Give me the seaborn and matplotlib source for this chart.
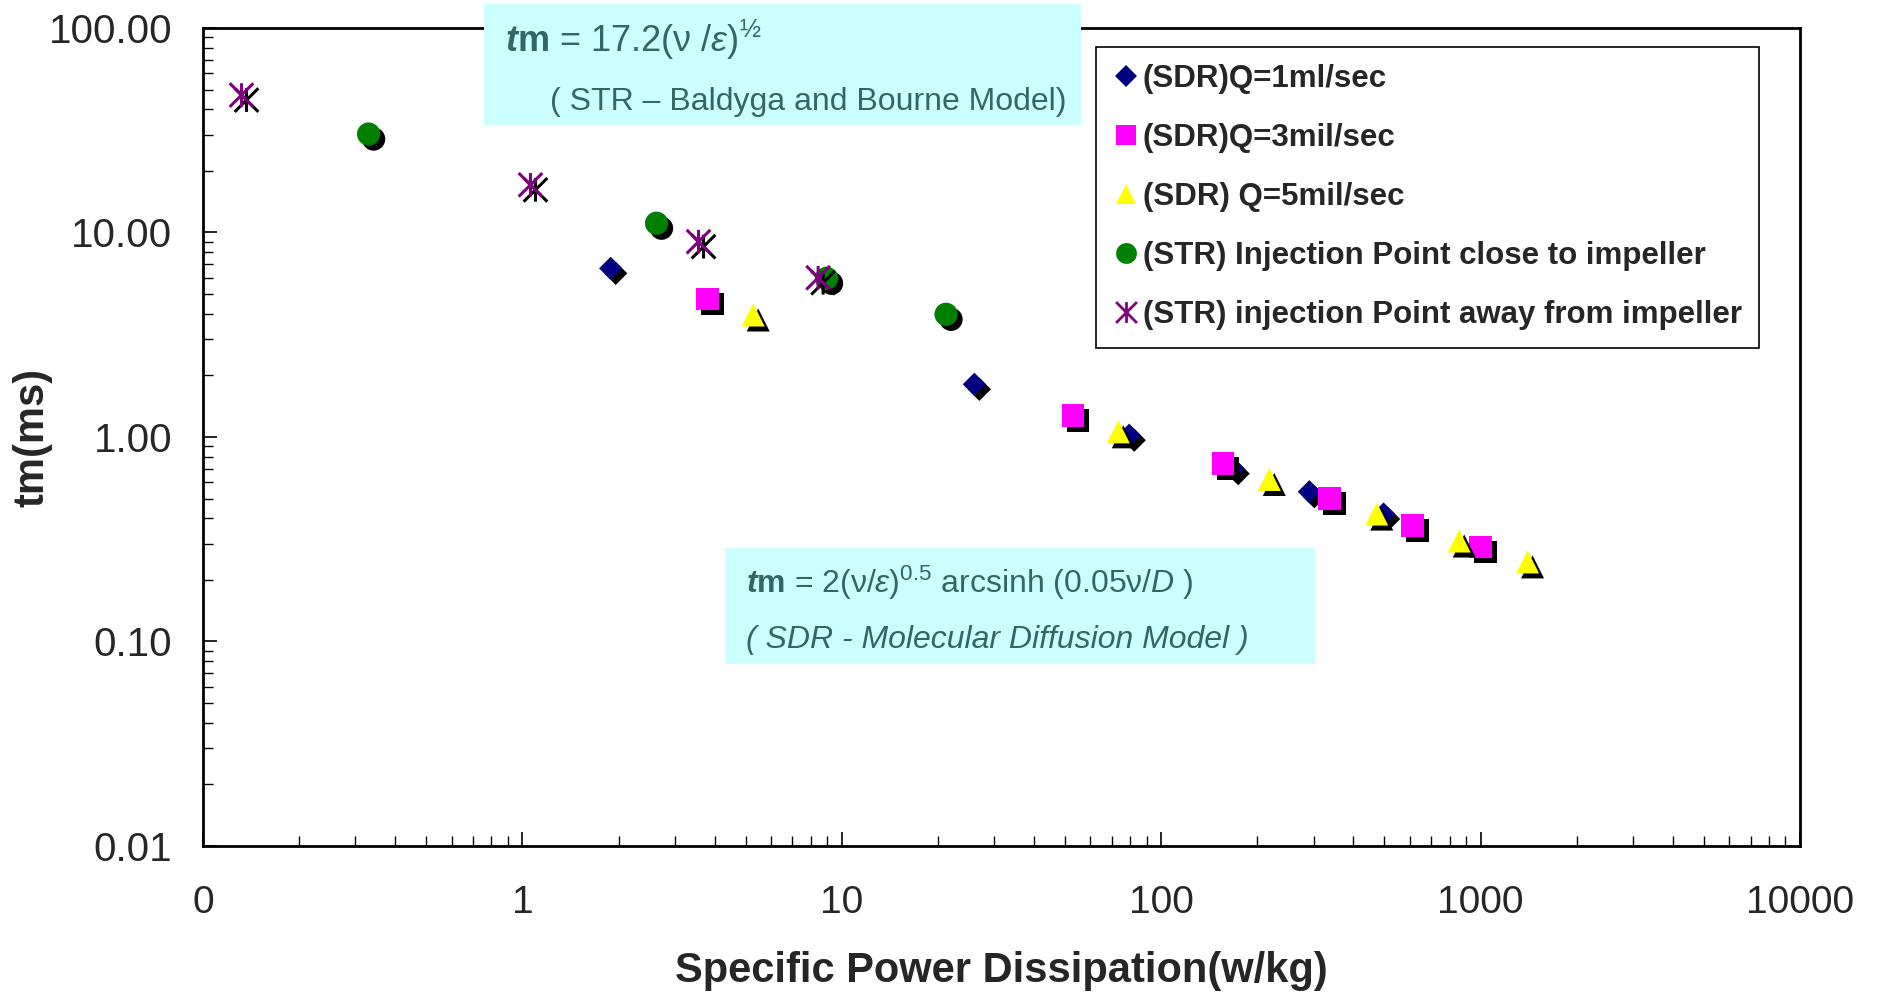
import matplotlib
matplotlib.use("Agg")
import matplotlib.pyplot as plt
import matplotlib.patheffects as pe
from matplotlib.path import Path
from matplotlib.lines import Line2D
from matplotlib.patches import Rectangle
from matplotlib.ticker import NullFormatter, LogLocator
import seaborn as sns

# values
sdr_q1_x = [1.89, 26.0, 79.4, 168, 291, 497]
sdr_q1_y = [6.68, 1.81, 1.02, 0.70, 0.54, 0.42]
sdr_q3_x = [3.80, 52.9, 156, 337, 612, 998]
sdr_q3_y = [4.73, 1.27, 0.74, 0.50, 0.37, 0.29]
sdr_q5_x = [5.28, 73.4, 218, 473, 857, 1403]
sdr_q5_y = [3.95, 1.06, 0.62, 0.42, 0.31, 0.245]
str_close_x = [0.33, 2.63, 8.96, 21.2]
str_close_y = [30.3, 11.1, 5.97, 3.98]
str_away_x = [0.132, 1.06, 3.56, 8.43]
str_away_y = [47.0, 17.1, 9.02, 6.01]

labels = ["(SDR)Q=1ml/sec", "(SDR)Q=3mil/sec", "(SDR) Q=5mil/sec",
          "(STR) Injection Point close to impeller",
          "(STR) injection Point away from impeller"]

x_ticks = [0.1, 1, 10, 100, 1000, 10000]
x_tick_labels = ["0", "1", "10", "100", "1000", "10000"]
y_ticks = [0.01, 0.1, 1, 10, 100]
y_tick_labels = ["0.01", "0.10", "1.00", "10.00", "100.00"]

sns.set_style("white")
plt.rcParams["font.family"] = ["Liberation Sans", "DejaVu Sans"]
plt.rcParams["mathtext.fontset"] = "custom"
plt.rcParams["mathtext.rm"] = "Liberation Sans"
plt.rcParams["mathtext.it"] = "Liberation Sans:italic"
plt.rcParams["mathtext.bf"] = "Liberation Sans:bold"
plt.rcParams["mathtext.bfit"] = "Liberation Sans:italic:bold"

W, H = 1881, 997
fig = plt.figure(figsize=(W / 100, H / 100), dpi=100)
ax = fig.add_axes([203 / W, 1 - 846 / H, 1597 / W, 818 / H])


def fx(px):
    return px / W


def fy(py):
    return 1 - py / H


# asterisk marker like the Excel one: vertical bar plus an X
star = Path([(0, -1), (0, 1), (-1, -1), (1, 1), (-1, 1), (1, -1)],
            [Path.MOVETO, Path.LINETO, Path.MOVETO, Path.LINETO, Path.MOVETO, Path.LINETO])

shadow_fill = [pe.SimplePatchShadow(offset=(3.6, -3.6), shadow_rgbFace="black", alpha=1.0), pe.Normal()]
shadow_line = [pe.SimpleLineShadow(offset=(3.6, -3.6), shadow_color="black", alpha=1.0), pe.Normal()]

sns.scatterplot(x=sdr_q1_x, y=sdr_q1_y, ax=ax, marker="D", s=140, color="#000080",
                edgecolor="none", linewidth=0, path_effects=shadow_fill, zorder=3)
sns.scatterplot(x=sdr_q3_x, y=sdr_q3_y, ax=ax, marker="s", s=265, color="#FF00FF",
                edgecolor="none", linewidth=0, path_effects=shadow_fill, zorder=3)
sns.scatterplot(x=sdr_q5_x, y=sdr_q5_y, ax=ax, marker="^", s=275, color="#FFFF00",
                edgecolor="none", linewidth=0, path_effects=shadow_fill, zorder=3)
sns.scatterplot(x=str_close_x, y=str_close_y, ax=ax, marker="o", s=280, color="#008000",
                edgecolor="none", linewidth=0, path_effects=shadow_fill, zorder=3)
sns.scatterplot(x=str_away_x, y=str_away_y, ax=ax, marker=star, s=290, color="#800080",
                facecolor="none", edgecolor="#800080", linewidth=2.2,
                path_effects=shadow_line, zorder=3)

ax.set_xscale("log")
ax.set_yscale("log")
ax.set_xlim(0.1, 10000)
ax.set_ylim(0.01, 100)
ax.set_xticks(x_ticks, labels=x_tick_labels)
ax.set_yticks(y_ticks, labels=y_tick_labels)
ax.xaxis.set_minor_locator(LogLocator(base=10, subs=range(2, 10)))
ax.yaxis.set_minor_locator(LogLocator(base=10, subs=range(2, 10)))
ax.xaxis.set_minor_formatter(NullFormatter())
ax.yaxis.set_minor_formatter(NullFormatter())
ax.tick_params(which="both", bottom=True, left=True, top=False, right=False)
ax.tick_params(which="major", direction="in", length=10, width=1.2, color="black")
ax.tick_params(which="minor", direction="in", length=7, width=1.0, color="black")
ax.tick_params(axis="x", which="major", labelsize=28, pad=28)
ax.tick_params(axis="y", which="major", labelsize=29, pad=22)
for sp in ax.spines.values():
    sp.set_color("black")
    sp.set_linewidth(2)
ax.grid(False)

ax.set_xlabel("Specific Power Dissipation(w/kg)", fontsize=30, fontweight="bold")
ax.set_ylabel("tm(ms)", fontsize=30, fontweight="bold")
ax.xaxis.set_label_coords(0.5, -0.128)
ax.yaxis.set_label_coords(-0.094, 0.5)

# formula boxes
box_col = "#CCFFFF"
txt_col = "#336666"
fig.patches.append(Rectangle((fx(484), fy(125)), fx(597), 121 / H, transform=fig.transFigure,
                             facecolor=box_col, edgecolor="none", zorder=5))
fig.patches.append(Rectangle((fx(725), fy(664)), fx(590), 116 / H, transform=fig.transFigure,
                             facecolor=box_col, edgecolor="none", zorder=5))
fig.text(fx(505), fy(52), r"$\mathbfit{t}\mathbf{m}$ = 17.2(ν /$\mathit{ε}$)$^{\mathrm{½}}$",
         fontsize=26, color=txt_col, va="baseline", zorder=6)
fig.text(fx(550), fy(110), "( STR – Baldyga and Bourne Model)",
         fontsize=23, color=txt_col, va="baseline", zorder=6)
fig.text(fx(746), fy(593),
         r"$\mathbfit{t}\mathbf{m}$ = 2(ν/$\mathit{ε}$)$^{\mathrm{0.5}}$ arcsinh (0.05ν/$\mathit{D}$ )",
         fontsize=23, color=txt_col, va="baseline", zorder=6)
fig.text(fx(746), fy(648), "( SDR - Molecular Diffusion Model )",
         fontsize=23, style="italic", color=txt_col, va="baseline", zorder=6)

# legend without shadows
handles = [
    Line2D([], [], linestyle="none", marker="D", markersize=11, color="#000080", markeredgewidth=0),
    Line2D([], [], linestyle="none", marker="s", markersize=14, color="#FF00FF", markeredgewidth=0),
    Line2D([], [], linestyle="none", marker="^", markersize=15, color="#FFFF00", markeredgewidth=0),
    Line2D([], [], linestyle="none", marker="o", markersize=15, color="#008000", markeredgewidth=0),
    Line2D([], [], linestyle="none", marker=star, markersize=15, color="#800080",
           markerfacecolor="none", markeredgewidth=2),
]
leg = fig.legend(handles, labels, loc="upper left", bbox_to_anchor=(fx(1096), fy(47)),
                 prop={"weight": "bold", "size": 22.5}, frameon=True, fancybox=False,
                 edgecolor="black", framealpha=1, borderpad=0.55, labelspacing=0.93,
                 handlelength=0.8, handletextpad=0.15, borderaxespad=0)
leg.get_frame().set_linewidth(1.2)
leg.set_zorder(7)

fig.savefig("out.png", dpi=100)
